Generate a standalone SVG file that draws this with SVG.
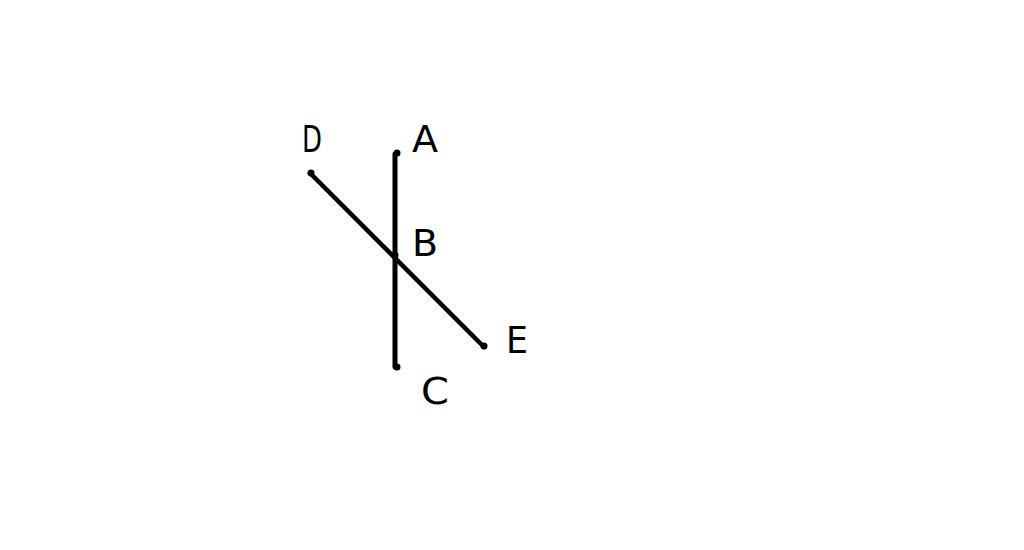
<svg xmlns="http://www.w3.org/2000/svg" width="1024" height="550" viewBox="0 0 1024 550">
<style>
.lbl{font-family:"DejaVu Sans","Liberation Sans",sans-serif;font-size:38px;font-weight:normal;fill:#000}
.ln{stroke:#000;stroke-linecap:round;fill:none}
</style>
<rect width="1024" height="550" fill="#fff"/>
<g id="connectors">
<line class="ln" x1="395" y1="154" x2="395" y2="367" stroke-width="5"/>
<line class="ln" x1="310" y1="173" x2="484" y2="347" stroke-width="4.5"/>
</g>
<g id="pointA"><circle cx="397" cy="153" r="3.5"/><text class="lbl" x="412" y="152" textLength="26" lengthAdjust="spacingAndGlyphs">A</text></g>
<g id="pointB"><circle cx="395" cy="255" r="3.5"/><text class="lbl" x="412" y="256" textLength="26" lengthAdjust="spacingAndGlyphs">B</text></g>
<g id="pointC"><circle cx="397" cy="367" r="3.5"/><text class="lbl" x="421" y="404" textLength="28" lengthAdjust="spacingAndGlyphs">C</text></g>
<g id="pointD"><circle cx="311" cy="173" r="3.5"/><text class="lbl" x="302" y="152" textLength="20" lengthAdjust="spacingAndGlyphs">D</text></g>
<g id="pointE"><circle cx="484" cy="346" r="3.5"/><text class="lbl" x="506" y="353" textLength="22" lengthAdjust="spacingAndGlyphs">E</text></g>
</svg>
